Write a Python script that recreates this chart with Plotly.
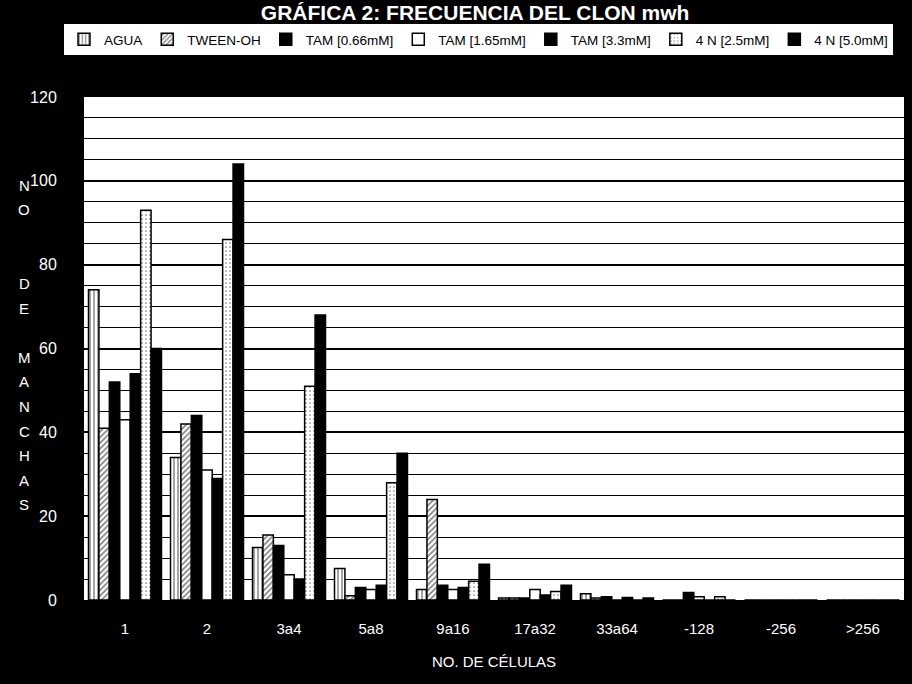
import plotly.graph_objects as go

categories = ["1", "2", "3a4", "5a8", "9a16", "17a32", "33a64", "-128", "-256", ">256"]

agua      = [74, 34, 12.5, 7.5, 2.5, 0.5, 1.5, 0, 0, 0]
tween_oh  = [41, 42, 15.5, 1, 24, 0.5, 0.5, 0, 0, 0]
tam_066   = [52, 44, 13, 3, 3.5, 0.5, 0.8, 1.8, 0, 0]
tam_165   = [43, 31, 6, 2.5, 2.5, 2.5, 0, 0.8, 0, 0]
tam_33    = [54, 29, 5, 3.5, 3, 1.2, 0.6, 0, 0, 0]
n4_25     = [93, 86, 51, 28, 4.5, 2, 0, 0.8, 0, 0]
n4_50     = [60, 104, 68, 35, 8.5, 3.5, 0.5, 0, 0, 0]

series_names = ["AGUA", "TWEEN-OH", "TAM [0.66mM]", "TAM [1.65mM]",
                "TAM [3.3mM]", "4 N [2.5mM]", "4 N [5.0mM]"]
series_values = [agua, tween_oh, tam_066, tam_165, tam_33, n4_25, n4_50]

y_title_letters = ["N", "O", "D", "E", "M", "A", "N", "C", "H", "A", "S"]
y_title_rows = [0, 1, 4, 5, 7, 8, 9, 10, 11, 12, 13]

styles = [
    dict(color="white", pattern=dict(shape="|", fgcolor="black", bgcolor="white", size=4, solidity=0.35)),
    dict(color="white", pattern=dict(shape="/", fgcolor="black", bgcolor="white", size=4, solidity=0.4)),
    dict(color="black"),
    dict(color="white"),
    dict(color="black"),
    dict(color="white", pattern=dict(shape=".", fgcolor="black", bgcolor="white", size=4, solidity=0.15)),
    dict(color="black"),
]

FONT = "Liberation Sans, Arial, sans-serif"
W, H = 912, 684
ML, MR, MT, MB = 84, 8, 97, 84

fig = go.Figure()
for name, vals, st in zip(series_names, series_values, styles):
    marker = dict(color=st["color"], line=dict(color="black", width=1.5))
    if "pattern" in st:
        marker["pattern"] = st["pattern"]
    fig.add_trace(go.Bar(name=name, x=categories, y=vals, marker=marker))

plot_h = H - MT - MB
plot_w = W - ML - MR

fig.update_layout(
    width=W, height=H,
    barmode="group", bargap=0.11, bargroupgap=0,
    paper_bgcolor="black", plot_bgcolor="white",
    margin=dict(l=ML, r=MR, t=MT, b=MB, autoexpand=False),
    font=dict(family=FONT, color="white", size=15),
    title=dict(text="<b>GRÁFICA 2: FRECUENCIA DEL CLON mwh</b>",
               x=0.521, xanchor="center", y=1 - 13 / H, yanchor="middle",
               font=dict(size=21, color="white", family=FONT)),
    legend=dict(orientation="h", x=(62 - ML) / plot_w, xanchor="left",
                y=(H - MB - 22) / plot_h, yanchor="top",
                bgcolor="white", bordercolor="black", borderwidth=2,
                font=dict(color="black", size=13.5, family=FONT),
                itemwidth=30, traceorder="normal", tracegroupgap=0),
    showlegend=True,
)

fig.update_yaxes(range=[0, 120], tickvals=[0, 20, 40, 60, 80, 100, 120],
                 showgrid=True, gridcolor="black", gridwidth=1.5,
                 minor=dict(dtick=5, showgrid=True, gridcolor="black", gridwidth=1.2),
                 showline=True, linecolor="black", linewidth=2, mirror=True,
                 zeroline=False, ticks="", ticklabelstandoff=22,
                 tickfont=dict(color="white", size=16))
fig.update_xaxes(showgrid=False, showline=True, linecolor="black", linewidth=2, mirror=True,
                 ticks="", tickfont=dict(color="white", size=15), ticklabelstandoff=14,
                 title=dict(text="NO. DE CÉLULAS", font=dict(color="white", size=15), standoff=20))

for letter, row in zip(y_title_letters, y_title_rows):
    ypix = 185 + row * 24.6
    fig.add_annotation(
        text=letter, xref="paper", yref="paper",
        x=(24 - ML) / plot_w, y=(H - MB - ypix) / plot_h,
        xanchor="center", yanchor="middle", showarrow=False,
        font=dict(color="white", size=15, family=FONT))

fig.write_html("out.html",
               config={"displayModeBar": False},
               post_script="document.body.style.margin='0';document.body.style.background='black';")
